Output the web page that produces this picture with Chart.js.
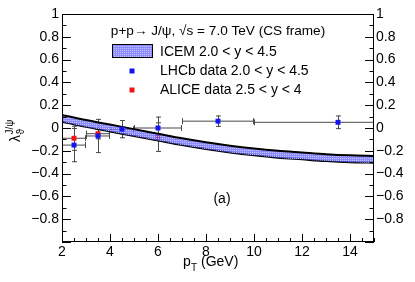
<!DOCTYPE html>
<html>
<head>
<meta charset="utf-8">
<script src="https://cdn.jsdelivr.net/npm/chart.js@4.4.1/dist/chart.umd.min.js"></script>
<style>
    html, body { margin: 0; padding: 0; background: #fff; }
</style>
</head>
<body>
<canvas id="chart" width="415" height="282"></canvas>
<script>
// ICEM band, edges
const bandPt = [2, 3, 4, 5, 6, 7, 8, 9, 10, 11, 12, 13, 14, 15];
const icemUpper = [0.115, 0.07, 0.03, -0.01, -0.05, -0.09, -0.125, -0.155, -0.18, -0.2, -0.215, -0.23, -0.24, -0.245];
const icemLower = [0.055, 0.01, -0.03, -0.07, -0.11, -0.15, -0.185, -0.215, -0.24, -0.26, -0.275, -0.29, -0.3, -0.305];

// LHCb 2.0 < y < 4.5
const lhcbPt = [2.5, 3.5, 4.5, 6, 8.5, 13.5];
const lhcbPtLo = [2, 3, 4, 5, 7, 10];
const lhcbPtHi = [3, 4, 5, 7, 10, 17];
const lhcbLambda = [-0.15, -0.07, -0.01, 0.0, 0.06, 0.05];
const lhcbErr = [0.15, 0.15, 0.08, 0.10, 0.05, 0.06];

// ALICE 2.5 < y < 4
const alicePt = [2.5, 3.5, 6];
const alicePtLo = [2, 3, 6];
const alicePtHi = [3, 4, 6];
const aliceLambda = [-0.09, -0.05, -0.08];
const aliceErr = [0.11, 0.05, 0.13];

const xRange = [2, 15];
const yRange = [-1, 1];

const FONT = "'Liberation Sans', Arial, sans-serif";

function toPoints(xs, ys) {
    return xs.map((x, i) => ({ x: x, y: ys[i] }));
}

function bandPattern() {
    const pc = document.createElement("canvas");
    pc.width = 2;
    pc.height = 2;
    const p = pc.getContext("2d");
    p.fillStyle = "rgba(95,95,255,0.72)";
    p.fillRect(0, 0, 2, 2);
    p.fillStyle = "rgba(200,200,255,0.9)";
    p.fillRect(0, 0, 1, 1);
    return p.createPattern(pc, "repeat");
}

const pattern = bandPattern();

function yLabel(v) {
    const r = Math.round(v * 10) / 10;
    if (r === -1) return "";
    if (r === 0) return "0";
    return (r < 0 ? "\u2212" : "") + Math.abs(r);
}

// error bars for the data sets, drawn through the scales
const errorBars = {
    id: "errorBars",
    beforeDatasetsDraw(chart) {
        const { ctx, chartArea: a, scales: { x, y } } = chart;
        ctx.save();
        ctx.beginPath();
        ctx.rect(a.left, a.top, a.right - a.left, a.bottom - a.top);
        ctx.clip();
        ctx.strokeStyle = "#4a4a4a";
        ctx.lineWidth = 1;
        chart.data.datasets.forEach(ds => {
            if (!ds.err) return;
            ds.data.forEach((pt, i) => {
                const px = x.getPixelForValue(pt.x);
                const py = y.getPixelForValue(pt.y);
                const x0 = x.getPixelForValue(ds.xLo[i]);
                const x1 = x.getPixelForValue(ds.xHi[i]);
                const y0 = y.getPixelForValue(pt.y + ds.err[i]);
                const y1 = y.getPixelForValue(pt.y - ds.err[i]);
                ctx.beginPath();
                if (x1 - x0 > 1) {
                    ctx.moveTo(x0, py); ctx.lineTo(x1, py);
                    ctx.moveTo(x0 + 0.5, py - 3); ctx.lineTo(x0 + 0.5, py + 3);
                    ctx.moveTo(x1 - 0.5, py - 3); ctx.lineTo(x1 - 0.5, py + 3);
                }
                ctx.moveTo(px + 0.5, y0); ctx.lineTo(px + 0.5, y1);
                ctx.moveTo(px - 2, y0 + 0.5); ctx.lineTo(px + 3, y0 + 0.5);
                ctx.moveTo(px - 2, y1 - 0.5); ctx.lineTo(px + 3, y1 - 0.5);
                ctx.stroke();
            });
        });
        ctx.restore();
    }
};

// ROOT style frame, inner ticks, titles and legend
const decor = {
    id: "decor",
    afterDraw(chart) {
        const { ctx, chartArea: a, scales: { x, y } } = chart;
        ctx.save();
        ctx.strokeStyle = "#000";
        ctx.lineWidth = 1;
        ctx.strokeRect(a.left + 0.5, a.top + 0.5, a.right - a.left - 1, a.bottom - a.top - 1);

        ctx.beginPath();
        for (let k = 0; k <= 20; k++) {
            const v = yRange[0] + k * 0.1;
            const py = Math.round(y.getPixelForValue(v)) + 0.5;
            const len = k % 2 === 0 ? 9 : 4.5;
            ctx.moveTo(a.left, py); ctx.lineTo(a.left + len, py);
            ctx.moveTo(a.right, py); ctx.lineTo(a.right - len, py);
        }
        for (let k = 0; k <= 26; k++) {
            const v = xRange[0] + k * 0.5;
            const px = Math.round(x.getPixelForValue(v)) + 0.5;
            const len = k % 4 === 0 ? 8 : 4;
            ctx.moveTo(px, a.bottom); ctx.lineTo(px, a.bottom - len);
        }
        ctx.stroke();

        ctx.fillStyle = "#000";
        ctx.textBaseline = "alphabetic";

        // x title
        ctx.textAlign = "left";
        ctx.font = "14px " + FONT;
        ctx.fillText("p", 183, 266);
        ctx.font = "10px " + FONT;
        ctx.fillText("T", 191, 271);
        ctx.font = "14px " + FONT;
        ctx.fillText("(GeV)", 201, 266);

        // y title
        ctx.save();
        ctx.translate(20, 142);
        ctx.rotate(-Math.PI / 2);
        ctx.font = "14px " + FONT;
        ctx.fillText("\u03bb", 0, 0);
        const w = ctx.measureText("\u03bb").width;
        ctx.font = "10px " + FONT;
        ctx.fillText("\u03d1", w + 0.5, 4);
        ctx.fillText("J/\u03c8", w + 0.5, -7);
        ctx.restore();

        // legend
        ctx.font = "13.6px " + FONT;
        ctx.textAlign = "center";
        ctx.textBaseline = "middle";
        ctx.fillText("p+p\u2192 J/\u03c8, \u221as = 7.0 TeV (CS frame)", 218, 31);

        ctx.font = "14px " + FONT;
        ctx.textAlign = "left";
        const ds = chart.data.datasets;
        ctx.fillStyle = pattern;
        ctx.fillRect(112, 44, 40, 13);
        ctx.strokeStyle = "#000";
        ctx.strokeRect(112.5, 44.5, 40, 13);
        ctx.fillStyle = "#000";
        ctx.fillText(ds[0].label, 160, 52);

        const items = [ds[2], ds[3]];
        items.forEach((d, i) => {
            const cy = 71 + i * 19;
            ctx.fillStyle = d.backgroundColor;
            ctx.fillRect(129.5, cy - 2.5, 5, 5);
            ctx.fillStyle = "#000";
            ctx.fillText(d.label, 160, cy);
        });

        ctx.font = "14px " + FONT;
        ctx.textAlign = "center";
        ctx.fillText("(a)", 222, 199);
        ctx.restore();
    }
};

Chart.defaults.font.family = FONT;
Chart.defaults.font.size = 14;
Chart.defaults.color = "#000";

new Chart(document.getElementById("chart"), {
    type: "scatter",

    data: {
        datasets: [
            {
                label: "ICEM 2.0 < y < 4.5",
                type: "line",
                data: toPoints(bandPt, icemUpper),
                borderColor: "#000",
                borderWidth: 2,
                pointRadius: 0,
                tension: 0.3,
                backgroundColor: pattern,
                fill: "+1",
                order: 1
            },
            {
                label: "ICEM lower",
                type: "line",
                data: toPoints(bandPt, icemLower),
                borderColor: "#000",
                borderWidth: 2,
                pointRadius: 0,
                tension: 0.3,
                fill: false,
                order: 1
            },
            {
                label: "LHCb data 2.0 < y < 4.5",
                data: toPoints(lhcbPt, lhcbLambda),
                xLo: lhcbPtLo,
                xHi: lhcbPtHi,
                err: lhcbErr,
                pointStyle: "rect",
                pointRadius: 3.5,
                borderWidth: 0,
                backgroundColor: "#1414f0",
                borderColor: "#1414f0",
                order: 0
            },
            {
                label: "ALICE data 2.5 < y < 4",
                data: toPoints(alicePt, aliceLambda),
                xLo: alicePtLo,
                xHi: alicePtHi,
                err: aliceErr,
                pointStyle: "rect",
                pointRadius: 3.5,
                borderWidth: 0,
                backgroundColor: "#f01414",
                borderColor: "#f01414",
                order: 2
            }
        ]
    },

    options: {
        responsive: false,
        animation: false,
        devicePixelRatio: 1,

        layout: {
            padding: { top: 14, left: 0, right: 0, bottom: 0 }
        },

        plugins: {
            legend: { display: false },
            tooltip: { enabled: false }
        },

        scales: {
            x: {
                type: "linear",
                min: xRange[0],
                max: xRange[1],
                grid: { display: false, drawTicks: false },
                border: { display: false },
                ticks: {
                    stepSize: 2,
                    includeBounds: false,
                    autoSkip: false,
                    maxRotation: 0,
                    padding: 2
                },
                afterFit: s => { s.height = 40; }
            },
            y: {
                type: "linear",
                position: "left",
                min: yRange[0],
                max: yRange[1],
                grid: { display: false, drawTicks: false },
                border: { display: false },
                ticks: {
                    stepSize: 0.2,
                    autoSkip: false,
                    padding: 3,
                    callback: yLabel
                },
                afterFit: s => { s.width = 62; }
            },
            y2: {
                type: "linear",
                position: "right",
                min: yRange[0],
                max: yRange[1],
                grid: { display: false, drawTicks: false },
                border: { display: false },
                ticks: {
                    stepSize: 0.2,
                    autoSkip: false,
                    padding: 2,
                    callback: yLabel
                },
                afterFit: s => { s.width = 41; }
            }
        }
    },

    plugins: [errorBars, decor]
});
</script>
</body>
</html>
